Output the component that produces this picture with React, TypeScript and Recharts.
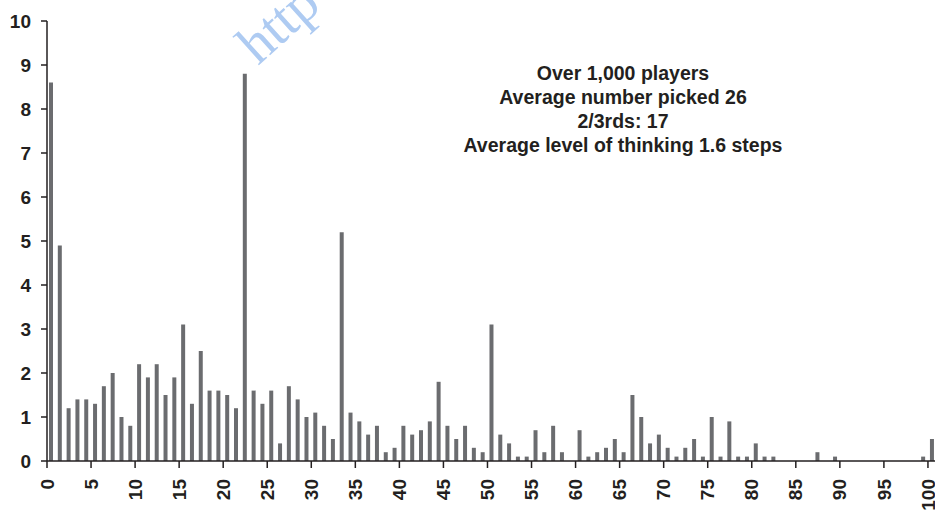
import React from 'react';
import { BarChart, Bar, XAxis, YAxis } from 'recharts';

// share of players (%) picking each number 0..100
const counts = [
  8.6, 4.9, 1.2, 1.4, 1.4, 1.3, 1.7, 2.0, 1.0, 0.8,
  2.2, 1.9, 2.2, 1.5, 1.9, 3.1, 1.3, 2.5, 1.6, 1.6,
  1.5, 1.2, 8.8, 1.6, 1.3, 1.6, 0.4, 1.7, 1.4, 1.0,
  1.1, 0.8, 0.5, 5.2, 1.1, 0.9, 0.6, 0.8, 0.2, 0.3,
  0.8, 0.6, 0.7, 0.9, 1.8, 0.8, 0.5, 0.8, 0.3, 0.2,
  3.1, 0.6, 0.4, 0.1, 0.1, 0.7, 0.2, 0.8, 0.2, 0,
  0.7, 0.1, 0.2, 0.3, 0.5, 0.2, 1.5, 1.0, 0.4, 0.6,
  0.3, 0.1, 0.3, 0.5, 0.1, 1.0, 0.1, 0.9, 0.1, 0.1,
  0.4, 0.1, 0.1, 0, 0, 0, 0, 0.2, 0, 0.1,
  0, 0, 0, 0, 0, 0, 0, 0, 0, 0.1,
  0.5,
];

const xTicks = [0, 5, 10, 15, 20, 25, 30, 35, 40, 45, 50, 55, 60, 65, 70, 75, 80, 85, 90, 95, 100];
const yTicks = [0, 1, 2, 3, 4, 5, 6, 7, 8, 9, 10];

const notes = [
  'Over 1,000 players',
  'Average number picked 26',
  '2/3rds: 17',
  'Average level of thinking 1.6 steps',
];

// each bar sits between its number and the next one
const data = counts.map((v, i) => ({ pos: i + 0.5, value: v }));

const FONT = '"Liberation Sans", Arial, Helvetica, sans-serif';
const INK = '#231f20';

const XTick = ({ x, y, payload }: any) => (
  <text
    x={x}
    y={y}
    transform={`rotate(-90, ${x}, ${y})`}
    textAnchor="end"
    dy="0.35em"
    fill={INK}
    fontSize={19}
    fontWeight="bold"
    fontFamily={FONT}
  >
    {payload.value}
  </text>
);

export default function App() {
  return (
    <div style={{ position: 'absolute', left: 0, top: 0, width: 935, height: 512, background: '#fff', overflow: 'hidden' }}>
      <BarChart width={935} height={512} data={data} margin={{ top: 21, right: 0, bottom: 0, left: 0 }}>
        <XAxis
          dataKey="pos"
          type="number"
          domain={[0, 100.8]}
          ticks={xTicks}
          interval={0}
          height={51}
          tickSize={7}
          tickMargin={11}
          axisLine={{ stroke: INK, strokeWidth: 1.5 }}
          tickLine={{ stroke: INK, strokeWidth: 1.5 }}
          tick={<XTick />}
        />
        <YAxis
          domain={[0, 10]}
          ticks={yTicks}
          interval={0}
          width={47}
          tickSize={6}
          tickMargin={10}
          axisLine={{ stroke: INK, strokeWidth: 1.5 }}
          tickLine={{ stroke: INK, strokeWidth: 1.5 }}
          tick={{ fill: INK, fontSize: 19, fontWeight: 'bold', fontFamily: FONT }}
        />
        <Bar dataKey="value" fill="#6b6c6f" barSize={4} isAnimationActive={false} />
      </BarChart>

      {/* faint watermark in the top-left area */}
      <svg width={935} height={512} style={{ position: 'absolute', left: 0, top: 0, pointerEvents: 'none' }}>
        <text
          x={258}
          y={66}
          transform="rotate(-42, 258, 66)"
          fill="#aecbf2"
          fontSize={56}
          fontFamily='"Liberation Serif", "DejaVu Serif", serif'
        >
          http
        </text>
      </svg>

      <div
        style={{
          position: 'absolute',
          left: 373,
          top: 61,
          width: 500,
          textAlign: 'center',
          fontFamily: FONT,
          fontWeight: 'bold',
          fontSize: 19.5,
          lineHeight: '24px',
          color: INK,
        }}
      >
        {notes.map((n) => (
          <div key={n}>{n}</div>
        ))}
      </div>
    </div>
  );
}
